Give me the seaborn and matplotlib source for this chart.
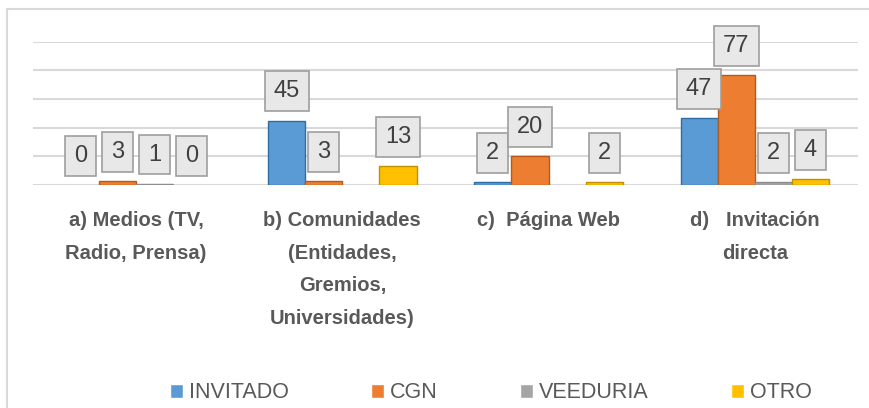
import matplotlib
matplotlib.use('Agg')
import matplotlib.pyplot as plt
import matplotlib.patches as mpatches
import pandas as pd
import seaborn as sns

categorias = ['a) Medios (TV,\nRadio, Prensa)',
              'b) Comunidades\n(Entidades,\nGremios,\nUniversidades)',
              'c)  Página Web',
              'd)   Invitación\ndirecta']
series = ['INVITADO', 'CGN', 'VEEDURIA', 'OTRO']
invitado = [0, 45, 2, 47]
cgn = [3, 3, 20, 77]
veeduria = [1, None, None, 2]
otro = [0, 13, 2, 4]

colores = ['#5b9bd5', '#ed7d31', '#a5a5a5', '#ffc000']
bordes = ['#2e6da4', '#b35a1f', '#8c8c8c', '#bf9000']

rows = []
for nombre, valores in zip(series, [invitado, cgn, veeduria, otro]):
    for cat, v in zip(categorias, valores):
        if v is not None:
            rows.append({'categoria': cat, 'serie': nombre, 'valor': v})
df = pd.DataFrame(rows)

sns.set_theme(style='white')
plt.rcParams['font.family'] = ['Liberation Sans', 'DejaVu Sans']

fig = plt.figure(figsize=(8.7, 4.08), dpi=100)
ax = fig.add_axes([33 / 870, 1 - 185 / 408, 825 / 870, (185 - 41.7) / 408])

sns.barplot(data=df, x='categoria', y='valor', hue='serie',
            order=categorias, hue_order=series, palette=colores,
            width=0.72, saturation=1, errorbar=None, ax=ax)

for cont, borde in zip(ax.containers, bordes):
    for p in cont:
        p.set_edgecolor(borde)
        p.set_linewidth(1.0 if p.get_height() > 0 else 0)
    ax.bar_label(cont, fmt='%d', padding=13, fontsize=17, color='#404040',
                 bbox=dict(boxstyle='square,pad=0.38', facecolor='#e8e8e8',
                           edgecolor='#9e9e9e', linewidth=1.2),
                 annotation_clip=False)

ax.set_ylim(0, 100)
ax.set_xlim(-0.5, 3.5)
ax.set_yticks(range(0, 101, 20))
ax.yaxis.grid(True, color='#d9d9d9', linewidth=1.5)
ax.set_axisbelow(True)
ax.set_yticklabels([])
ax.tick_params(axis='both', length=0)
ax.tick_params(axis='x', pad=19)
ax.set_xlabel('')
ax.set_ylabel('')
for s in ax.spines.values():
    s.set_visible(False)
for lbl in ax.get_xticklabels():
    lbl.set_fontsize(14.5)
    lbl.set_fontweight('bold')
    lbl.set_color('#595959')
    lbl.set_linespacing(1.9)
    lbl.set_verticalalignment('top')

handles, labels = ax.get_legend_handles_labels()
ax.legend(handles, labels, loc='center', bbox_to_anchor=(491 / 870, 1 - 393 / 408),
          bbox_transform=fig.transFigure, ncol=4, frameon=False,
          fontsize=15.5, labelcolor='#595959', handlelength=0.6,
          handleheight=0.6, handletextpad=0.3, columnspacing=3.8)

fig.patches.append(mpatches.Rectangle((7 / 870, -0.1), 1.1, 1.1 - 9 / 408,
                                      transform=fig.transFigure, fill=False,
                                      edgecolor='#d9d9d9', linewidth=1.5))

fig.savefig('out.png', dpi=100, facecolor='white')
